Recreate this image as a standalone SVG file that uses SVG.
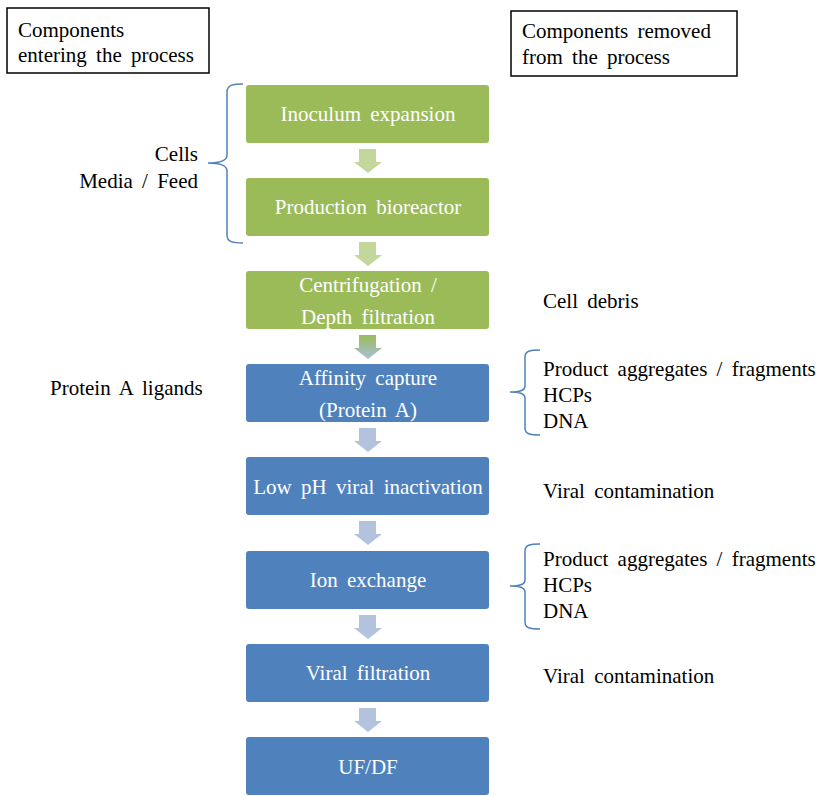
<svg xmlns="http://www.w3.org/2000/svg" width="816" height="796" viewBox="0 0 816 796">
<style>
.t{font-family:'Liberation Serif',serif;font-size:21px;word-spacing:4px}
.k{fill:#000}
.w{fill:#fff;text-anchor:middle}
.g{fill:#9BBB59}
.b{fill:#4F81BD}
.br{fill:none;stroke:#4F81BD;stroke-width:1.5}
.lbl{fill:#fff;stroke:#000;stroke-width:1.5}
</style>
<defs>
<linearGradient id="gb" x1="0" y1="0" x2="0" y2="1">
<stop offset="0" stop-color="#9BBB59"/>
<stop offset="1" stop-color="#A7BEDD"/>
</linearGradient>
</defs>
<rect width="816" height="796" fill="#fff"/>
<g font-family="Liberation Serif" font-size="21">
<g id="legend-in"><rect class="lbl" x="7" y="8" width="202" height="65"/><text class="t k" x="18" y="37">Components</text><text class="t k" x="18" y="62">entering the process</text></g>
<g id="legend-out"><rect class="lbl" x="511" y="11" width="226" height="65"/><text class="t k" x="522" y="38">Components removed</text><text class="t k" x="522" y="64">from the process</text></g>
<g id="connectors">
<path fill="#C3D69B" d="M359,149h17v13h6l-14,11l-14,-11h5z"/>
<path fill="#C3D69B" d="M359,242h17v13h6l-14,11l-14,-11h5z"/>
<path fill="url(#gb)" d="M359,335h17v13h6l-14,11l-14,-11h5z"/>
<path fill="#B3C3DE" d="M359,428h17v13h6l-14,11l-14,-11h5z"/>
<path fill="#B3C3DE" d="M359,521h17v13h6l-14,11l-14,-11h5z"/>
<path fill="#B3C3DE" d="M359,615h17v13h6l-14,11l-14,-11h5z"/>
<path fill="#B3C3DE" d="M359,708h17v13h6l-14,11l-14,-11h5z"/>
</g>
<g id="n1"><rect class="g" x="246" y="85" width="243" height="58" rx="3"/><text class="t w" x="368" y="121">Inoculum expansion</text></g>
<g id="n2"><rect class="g" x="246" y="178" width="243" height="58" rx="3"/><text class="t w" x="368" y="214">Production bioreactor</text></g>
<g id="n3"><rect class="g" x="246" y="271" width="243" height="58" rx="3"/><text class="t w" x="368" y="292">Centrifugation /</text><text class="t w" x="368" y="324">Depth filtration</text></g>
<g id="n4"><rect class="b" x="246" y="364" width="243" height="58" rx="3"/><text class="t w" x="368" y="385">Affinity capture</text><text class="t w" x="368" y="417">(Protein A)</text></g>
<g id="n5"><rect class="b" x="246" y="457" width="243" height="58" rx="3"/><text class="t w" x="368" y="494">Low pH viral inactivation</text></g>
<g id="n6"><rect class="b" x="246" y="551" width="243" height="58" rx="3"/><text class="t w" x="368" y="587">Ion exchange</text></g>
<g id="n7"><rect class="b" x="246" y="644" width="243" height="58" rx="3"/><text class="t w" x="368" y="680">Viral filtration</text></g>
<g id="n8"><rect class="b" x="246" y="737" width="243" height="58" rx="3"/><text class="t w" x="368" y="774">UF/DF</text></g>
<g id="in-cells">
<path class="br" d="M243,84c-10,0-16,1-16,8v63c0,6-8,8-19,8c11,0,19,2,19,8v64c0,7 6,8 16,8"/>
<text class="t k" x="198" y="161" text-anchor="end">Cells</text>
<text class="t k" x="198" y="188" text-anchor="end">Media / Feed</text>
</g>
<g id="in-protein"><text class="t k" x="50" y="395">Protein A ligands</text></g>
<g id="out-debris"><text class="t k" x="543" y="308">Cell debris</text></g>
<g id="out-1">
<path class="br" d="M540,350c-10,0-15,1-15,7v29c0,5-6,6-15,6c9,0,15,1,15,6v30c0,6 5,7 15,7"/>
<text class="t k" x="543" y="376">Product aggregates / fragments</text>
<text class="t k" x="543" y="402">HCPs</text>
<text class="t k" x="543" y="428">DNA</text>
</g>
<g id="out-vir1"><text class="t k" x="543" y="498">Viral contamination</text></g>
<g id="out-2">
<path class="br" d="M540,544c-10,0-15,1-15,7v29c0,5-6,6-15,6c9,0,15,1,15,6v30c0,6 5,7 15,7"/>
<text class="t k" x="543" y="566">Product aggregates / fragments</text>
<text class="t k" x="543" y="592">HCPs</text>
<text class="t k" x="543" y="618">DNA</text>
</g>
<g id="out-vir2"><text class="t k" x="543" y="683">Viral contamination</text></g>
</g>
</svg>
